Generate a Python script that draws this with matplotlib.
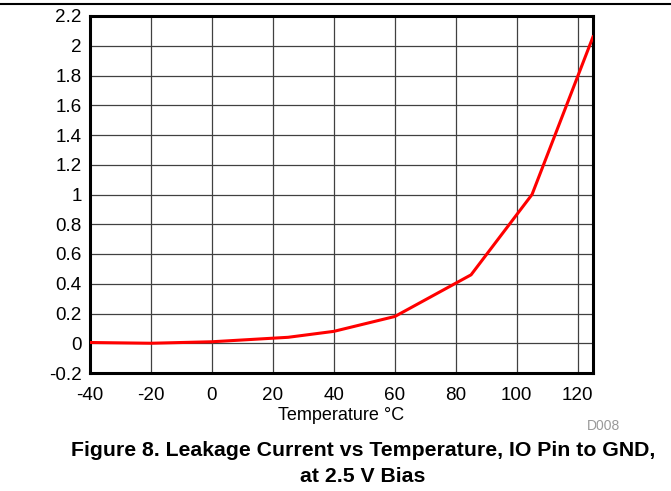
import matplotlib
matplotlib.use("Agg")
import matplotlib.pyplot as plt

# Leakage current vs temperature, IO pin to GND, 2.5 V bias
temps = [-40, -20, 0, 25, 40, 60, 85, 105, 125]
leakage = [0.005, 0.0, 0.01, 0.04, 0.08, 0.18, 0.46, 1.0, 2.06]

x_ticks = [-40, -20, 0, 20, 40, 60, 80, 100, 120]
y_ticks = [-0.2, 0, 0.2, 0.4, 0.6, 0.8, 1, 1.2, 1.4, 1.6, 1.8, 2, 2.2]

plt.rcParams['font.family'] = ['Liberation Sans', 'DejaVu Sans']

fig = plt.figure(figsize=(6.71, 4.91), dpi=100)
ax = fig.add_axes([90 / 671, 1 - 373 / 491, 503 / 671, 357 / 491])

ax.plot(temps, leakage, color='#ff0000', linewidth=2.2, zorder=3)

ax.set_xlim(-40, 125)
ax.set_ylim(-0.2, 2.2)
ax.set_xticks(x_ticks)
ax.set_yticks(y_ticks)
ax.set_xticklabels([str(t) for t in x_ticks])
ax.set_yticklabels([f"{t:g}" for t in y_ticks])
ax.tick_params(length=0, labelsize=13.6)
ax.tick_params(axis='x', pad=10)
ax.tick_params(axis='y', pad=6)
ax.grid(True, color='#404040', linewidth=0.9)
for s in ax.spines.values():
    s.set_linewidth(2.2)
    s.set_color('black')

ax.set_xlabel('Temperature °C', fontsize=13, labelpad=2)

fig.text(620 / 671, 1 - 426 / 491, 'D008', fontsize=10, color='#999999',
         ha='right', va='center')
fig.text(363 / 671, 1 - 451 / 491,
         'Figure 8. Leakage Current vs Temperature, IO Pin to GND,',
         fontsize=15.3, fontweight='bold', ha='center', va='center')
fig.text(363 / 671, 1 - 476 / 491, 'at 2.5 V Bias',
         fontsize=15.3, fontweight='bold', ha='center', va='center')

# rule across the top of the page
fig.add_artist(plt.Line2D([0, 1], [1 - 4 / 491, 1 - 4 / 491],
                          color='black', linewidth=1.5))

fig.savefig('out.png', dpi=100)
